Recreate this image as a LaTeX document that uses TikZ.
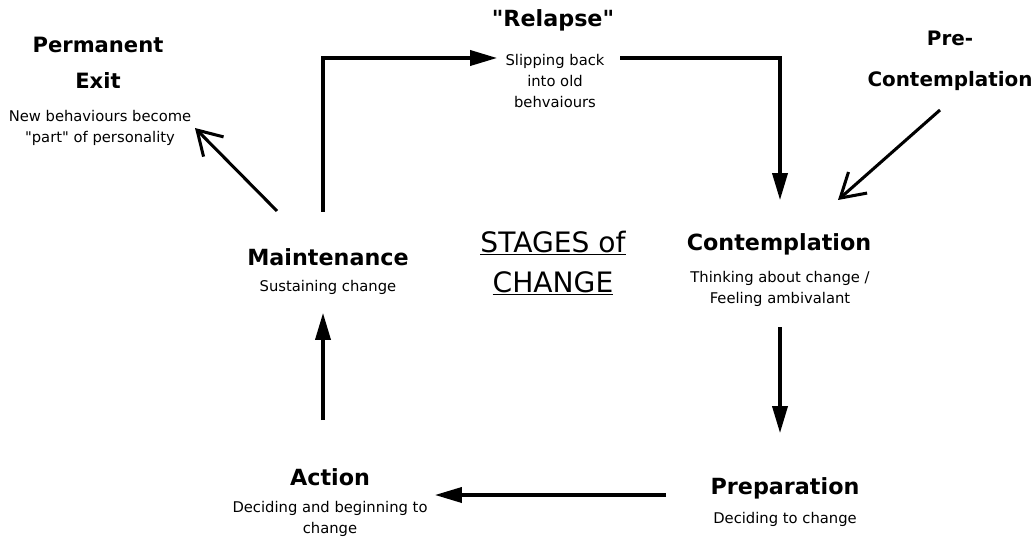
\documentclass[tikz,border=0pt]{standalone}
\usepackage{fontspec}
\setmainfont{DejaVu Sans}
\usetikzlibrary{arrows.meta,positioning}
\newcommand\dq{\XeTeXglyph\XeTeXcharglyph"22\relax}
\tikzset{
  stage/.style={font=\bfseries\fontsize{19}{31}\selectfont, align=center, inner sep=0pt},
  note/.style={font=\fontsize{12.6}{18}\selectfont, align=center, inner sep=0pt},
  flow/.style={line width=2.6pt, -{Triangle[length=23pt,width=13pt]}},
  lead/.style={line width=2.6pt, -{Straight Barb[length=20pt,width=24pt,line width=2.6pt]}},
}
\begin{document}
\begin{tikzpicture}[x=0.03cm,y=-0.03cm]
    \useasboundingbox (0,0) rectangle (1035,539);
    % stages
    \node[stage, font=\bfseries\fontsize{18}{31}\selectfont] (exitT) at (98,63) {Permanent\\Exit};
    \node[note] (exitS) at (100,128) {New behaviours become\\\dq part\dq{} of personality};
    \node[stage] (relT) at (553,20) {\dq Relapse\dq};
    \node[note] (relS) at (555,81) {Slipping back\\into old\\behvaiours};
    \node[stage, font=\bfseries\fontsize{17}{31}\selectfont] (preT) at (950,61) {Pre-\\[4pt]Contemplation};
    \node[stage] (contT) at (779,244) {Contemplation};
    \node[note] (contS) at (780,289) {Thinking about change /\\Feeling ambivalant};
    \node[stage] (prepT) at (785,488) {Preparation};
    \node[note] (prepS) at (785,519) {Deciding to change};
    \node[stage] (actT) at (330,477) {Action};
    \node[note] (actS) at (330,519) {Deciding and beginning to\\change};
    \node[stage] (maintT) at (328,257) {Maintenance};
    \node[note] (maintS) at (328,287) {Sustaining change};
    \node[font=\fontsize{24}{34}\selectfont, align=center, inner sep=0pt] (title) at (553,263)
        {\underline{STAGES of}\\\underline{CHANGE}};
    % connectors
    \draw[lead] ([shift={(-51,-46)}]maintT.center) -- ([shift={(95,0)}]exitS.center);
    \draw[flow] ([shift={(-5,-45)}]maintT.center) |- ([shift={(-58,-23)}]relS.center);
    \draw[flow] ([shift={(65,-23)}]relS.center) -| ([shift={(1,-44)}]contT.center);
    \draw[lead] ([shift={(-10,49)}]preT.center) -- ([shift={(59,-44)}]contT.center);
    \draw[flow] ([shift={(0,38)}]contS.center) -- ([shift={(-5,-55)}]prepT.center);
    \draw[flow] ([shift={(-119,7)}]prepT.center) -- ([shift={(105,18)}]actT.center);
    \draw[flow] ([shift={(-7,-57)}]actT.center) -- ([shift={(-5,26)}]maintS.center);
\end{tikzpicture}
\end{document}
